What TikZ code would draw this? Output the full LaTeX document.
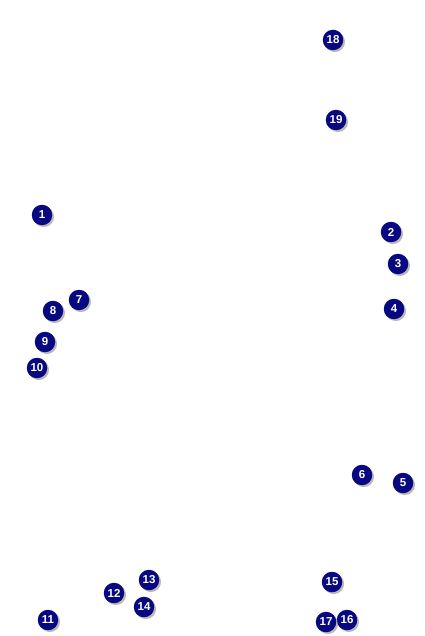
\documentclass[tikz,border=0pt]{standalone}
\usepackage{fontspec}
\setmainfont{Liberation Sans}
\usetikzlibrary{shadows}
\definecolor{navy}{RGB}{8,8,128}
\begin{document}
\begin{tikzpicture}[x=1pt,y=-1pt,
  badge/.style={circle,fill=navy,minimum size=20.5pt,inner sep=0pt,text=white,
    font=\bfseries\fontsize{11.5}{11.5}\selectfont,
    drop shadow={shadow xshift=1.8pt,shadow yshift=-1.8pt,opacity=0.55,fill=gray}}]
\useasboundingbox[fill=white] (0,0) rectangle (424,636);
\node[badge] (n1) at (42,215) {1};
\node[badge] (n2) at (391,232) {2};
\node[badge] (n3) at (398,264) {3};
\node[badge] (n4) at (394,309) {4};
\node[badge] (n5) at (403,483) {5};
\node[badge] (n6) at (362,475) {6};
\node[badge] (n7) at (79,300) {7};
\node[badge] (n8) at (53,311) {8};
\node[badge] (n9) at (45,342) {9};
\node[badge] (n10) at (37,368) {10};
\node[badge] (n11) at (48,620) {11};
\node[badge] (n12) at (114,593) {12};
\node[badge] (n13) at (149,580) {13};
\node[badge] (n14) at (144,607) {14};
\node[badge] (n15) at (332,582) {15};
\node[badge] (n16) at (347,620) {16};
\node[badge] (n17) at (326,622) {17};
\node[badge] (n18) at (333,40) {18};
\node[badge] (n19) at (336,120) {19};
\end{tikzpicture}
\end{document}
